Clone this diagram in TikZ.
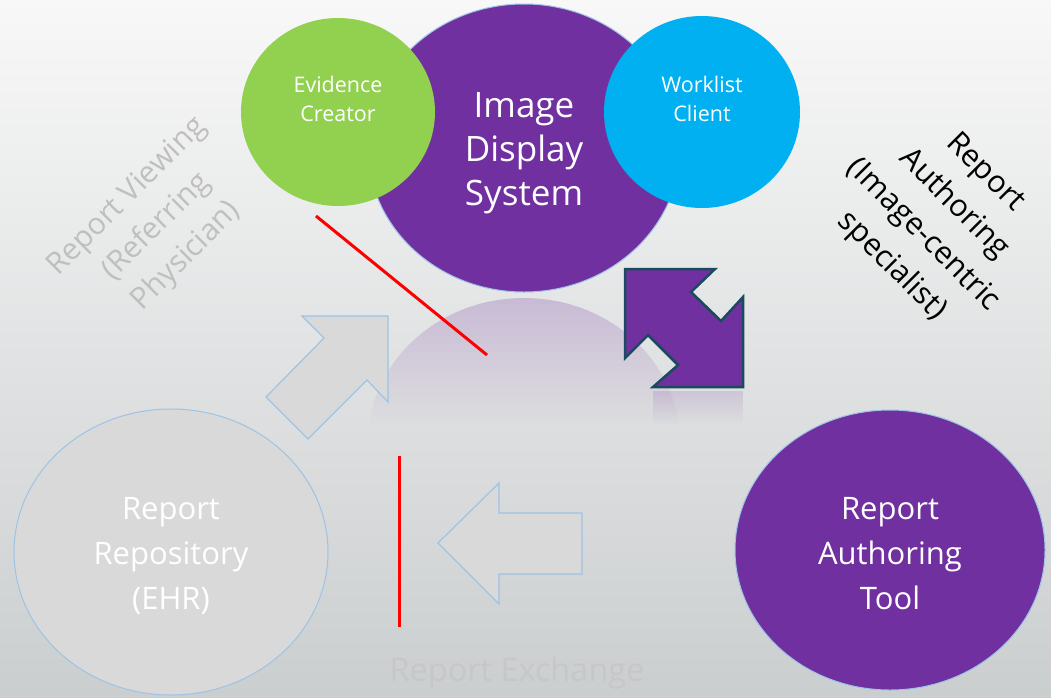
\documentclass[tikz,border=0pt]{standalone}
\usepackage{fontspec}
\setmainfont{Open Sans}
\usetikzlibrary{shapes.geometric,fadings}

\definecolor{idspurple}{HTML}{7030A0}
\definecolor{ecgreen}{HTML}{92D050}
\definecolor{wlblue}{HTML}{00B0F0}
\definecolor{rimblue}{HTML}{9DC3E6}
\definecolor{fadegray}{HTML}{D9D9D9}
\definecolor{arrowrim}{HTML}{1A4A5E}
\definecolor{bgtop}{HTML}{F8F8F8}
\definecolor{bgmid}{HTML}{EEEEEE}
\definecolor{bgbot}{HTML}{CBCECF}

\begin{document}
\begin{tikzpicture}[x=1pt,y=-1pt,
    actor/.style={ellipse,draw=rimblue,line width=1pt,inner sep=0pt},
    caption/.style={text=white,align=center},
    block/.style={fill=fadegray,draw=rimblue,line width=1.2pt,line join=miter},
    strike/.style={red,line width=3pt},
    mirror/.style={fill=idspurple,fill opacity=0.24,draw=none,path fading=south}]
      \useasboundingbox (0,0) rectangle (1051,697);
      \shade[top color=bgtop,middle color=bgmid,bottom color=bgbot] (0,0) rectangle (1051,697);

      \begin{scope}
        \clip (524,442) ellipse [x radius=156,y radius=144];
        \fill[mirror] (360,298) rectangle (700,425);
      \end{scope}
      \fill[mirror,fill opacity=0.15] (653,391) rectangle (743,425);

      \node[actor,fill=idspurple,minimum width=312,minimum height=288] (ids) at (524,148) {};
      \node[actor,draw=none,fill=ecgreen,minimum width=194,minimum height=188] (ec) at (338,112) {};
      \node[actor,draw=none,fill=wlblue,minimum width=196,minimum height=192] (wl) at (702,112) {};
      \node[actor,fill=fadegray,minimum width=314,minimum height=286] (ehr) at (171,552) {};
      \node[actor,fill=idspurple,minimum width=310,minimum height=280] (rat) at (890,550) {};

      \node[caption,font=\fontsize{35}{44}\selectfont] (idstext) at (524,153) {Image\\Display\\System};
      \node[caption,font=\fontsize{21.5}{29}\selectfont] (ectext) at (338,99) {Evidence\\Creator};
      \node[caption,font=\fontsize{21.5}{29}\selectfont] (wltext) at (702,99) {Worklist\\Client};
      \node[caption,font=\fontsize{31}{45}\selectfont] (ehrtext) at (171,556) {Report\\Repository\\(EHR)};
      \node[caption,font=\fontsize{31}{45}\selectfont] (rattext) at (890,554) {Report\\Authoring\\Tool};

      \draw[block] (388,316) -- (302,316) -- (324,338) -- (266,397) -- (308,439) -- (367,380) -- (388,402) -- cycle;
      \draw[block] (438,543) -- (499,483) -- (499,513) -- (582,513) -- (582,574) -- (499,574) -- (499,604) -- cycle;
      \draw[fill=idspurple,draw=arrowrim,line width=2.5pt,line join=miter]
        (625,269) -- (715,269) -- (691,292) -- (721,321) -- (743,297) -- (743,387)
        -- (653,387) -- (678,365) -- (648,335) -- (625,358) -- cycle;

      \coordinate (cutA) at (316,216);
      \coordinate (cutB) at (487,355);
      \coordinate (cutC) at (399,456);
      \coordinate (cutD) at (399,627);
      \draw[strike] (cutA) -- (cutB);
      \draw[strike] (cutC) -- (cutD);

      \node[rotate=45,text=black!25,align=center,font=\fontsize{30}{42}\selectfont] (viewing) at (157,227) {Report Viewing\\(Referring\\Physician)};
      \node[rotate=-45,text=black,align=center,font=\fontsize{30.5}{44}\selectfont] (authoring) at (938,220) {Report\\Authoring\\(Image-centric\\specialist)};
      \node[text=black!22,font=\fontsize{32.5}{40}\selectfont] (exchange) at (517,673) {Report Exchange};
    \end{tikzpicture}
\end{document}
